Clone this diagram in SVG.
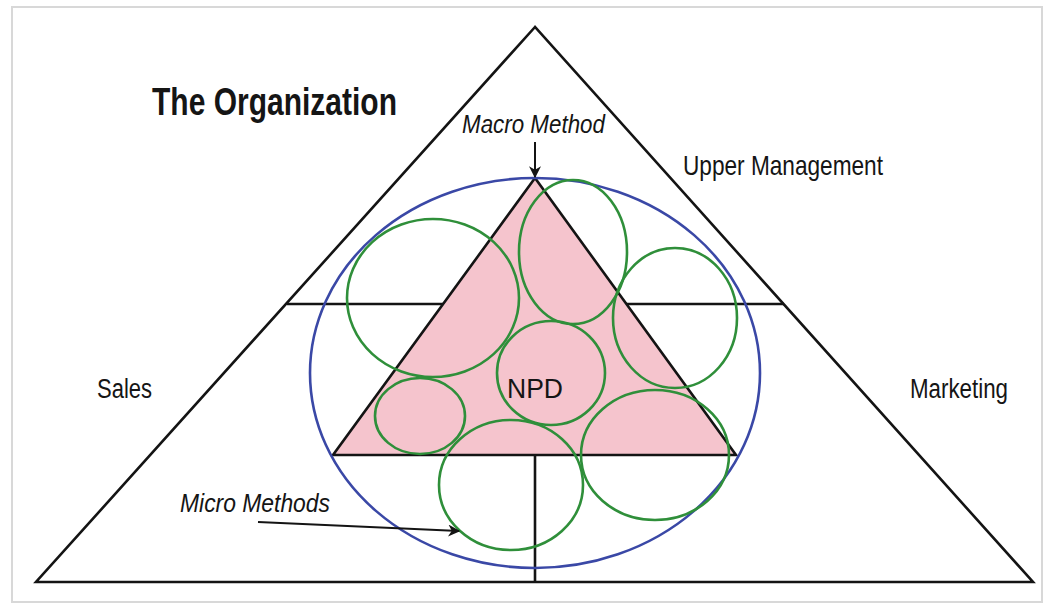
<svg xmlns="http://www.w3.org/2000/svg" width="1045" height="606" viewBox="0 0 1045 606">
<defs>
<style>
.ln{fill:none;stroke:#141414;stroke-width:2.6;stroke-linejoin:miter}
.gc{fill:none;stroke:#2f8f3a;stroke-width:2.6}
.bl{fill:none;stroke:#3a48a6;stroke-width:2.6}
.t{font-family:"Liberation Sans",Arial,sans-serif;fill:#151515}
.it{font-style:italic}
.ar{fill:none;stroke:#141414;stroke-width:2}
</style>
<marker id="ah" viewBox="0 0 10 10" refX="9" refY="5" markerWidth="6" markerHeight="6" markerUnits="strokeWidth" orient="auto">
<path d="M0,0 L10,5 L0,10 L3,5 Z" fill="#141414"/>
</marker>
</defs>
<rect width="1045" height="606" fill="#ffffff"/>
<rect x="12" y="7" width="1030" height="595" fill="none" stroke="#d8d8d8" stroke-width="2"/>
<g id="organization">
<polygon class="ln" points="535,27 36,582 1033,582"/>
<line class="ln" x1="287" y1="304" x2="784" y2="304"/>
<line class="ln" x1="535" y1="455" x2="535" y2="582"/>
</g>
<g id="npd">
<polygon points="535,178 333,455 736,455" fill="#f5c4cd" stroke="#141414" stroke-width="2.6"/>
</g>
<g id="macro-ellipse">
<ellipse class="bl" cx="535" cy="373" rx="225" ry="195"/>
</g>
<g id="micro-methods">
<ellipse class="gc" cx="433" cy="298" rx="86" ry="79"/>
<ellipse class="gc" cx="573" cy="252" rx="54" ry="72"/>
<ellipse class="gc" cx="675" cy="318" rx="62" ry="70"/>
<ellipse class="gc" cx="551" cy="373" rx="54" ry="52"/>
<ellipse class="gc" cx="420" cy="416" rx="45" ry="38"/>
<ellipse class="gc" cx="511" cy="485" rx="72" ry="65"/>
<ellipse class="gc" cx="655" cy="455" rx="74" ry="65"/>
</g>
<g id="connectors">
<line class="ar" x1="535" y1="142" x2="535" y2="177" marker-end="url(#ah)"/>
<line class="ar" x1="258" y1="522" x2="459" y2="531" marker-end="url(#ah)"/>
</g>
<g id="labels">
<text class="t" x="152" y="115" font-size="38" font-weight="bold" textLength="245" lengthAdjust="spacingAndGlyphs">The Organization</text>
<text class="t it" x="462" y="133" font-size="25" textLength="143" lengthAdjust="spacingAndGlyphs">Macro Method</text>
<text class="t" x="683" y="175" font-size="28" textLength="200" lengthAdjust="spacingAndGlyphs">Upper Management</text>
<text class="t" x="97" y="398" font-size="27" textLength="55" lengthAdjust="spacingAndGlyphs">Sales</text>
<text class="t" x="910" y="398" font-size="27" textLength="98" lengthAdjust="spacingAndGlyphs">Marketing</text>
<text class="t" x="507" y="398" font-size="27" textLength="56" lengthAdjust="spacingAndGlyphs">NPD</text>
<text class="t it" x="180" y="512" font-size="26" textLength="150" lengthAdjust="spacingAndGlyphs">Micro Methods</text>
</g>
</svg>
